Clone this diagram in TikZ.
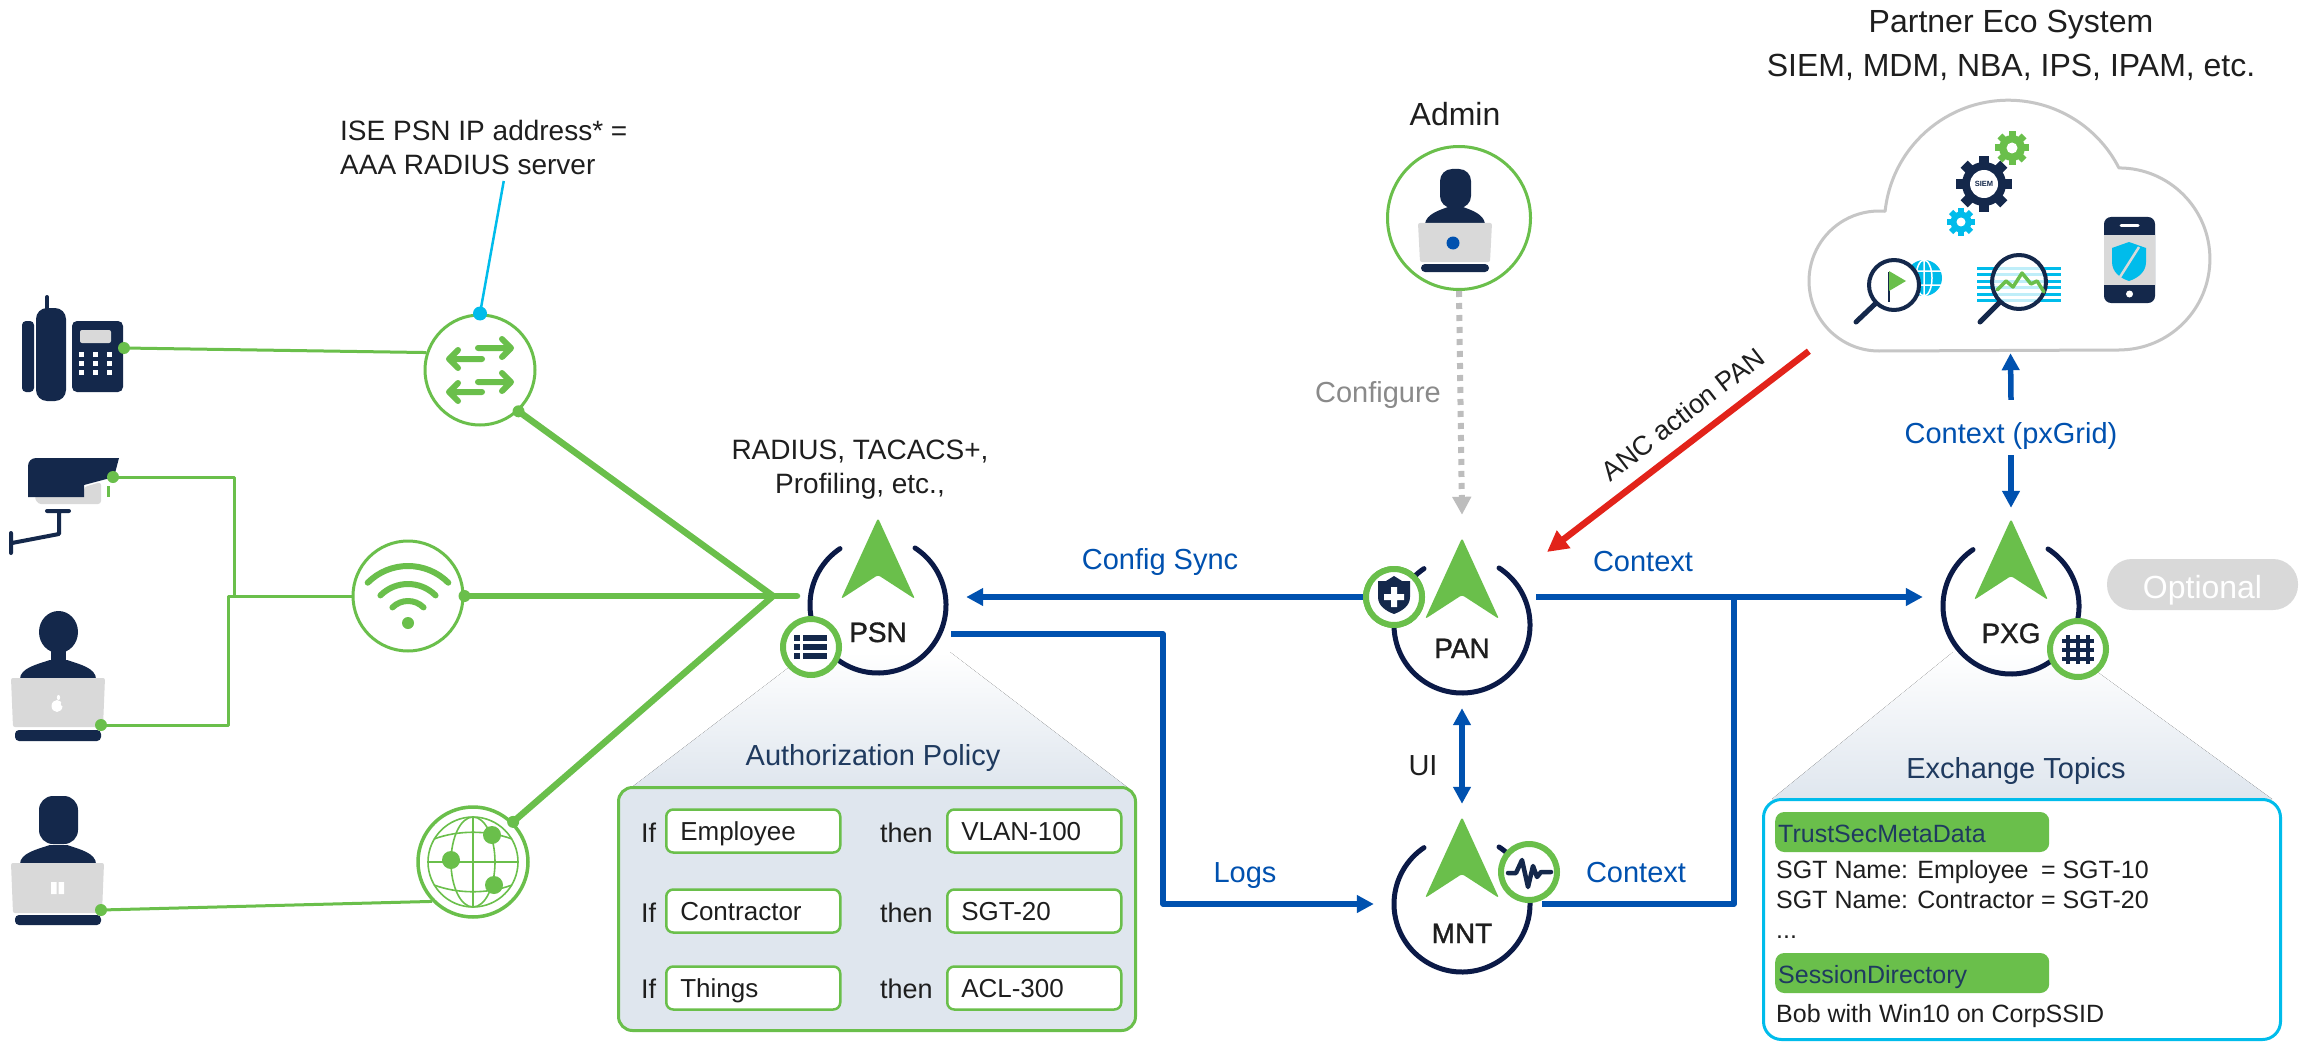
\documentclass[tikz,border=0pt]{standalone}
\usepackage{fontspec}
\setmainfont{Liberation Sans}
\newfontfamily\medfont[FakeBold=1.2]{Liberation Sans}
\usetikzlibrary{arrows.meta,calc}

\definecolor{cgreen}{HTML}{6ABF4B}
\definecolor{cnavy}{HTML}{14284B}
\definecolor{ringnavy}{HTML}{0B1A47}
\definecolor{cblue}{HTML}{0051AF}
\definecolor{ccyan}{HTML}{00BCEB}
\definecolor{cred}{HTML}{E2231A}
\definecolor{cgray}{HTML}{D9D9D9}
\definecolor{dotgray}{HTML}{BDBDBD}
\definecolor{softgray}{HTML}{8A8A8A}
\definecolor{ink}{HTML}{1E1E1E}
\definecolor{panelfill}{HTML}{DFE6EE}
\definecolor{titlenavy}{HTML}{1F3A5F}
\definecolor{cloudline}{HTML}{C6C6C6}

\newcommand\fsz[1]{\fontsize{#1pt}{#1pt}\selectfont}

\tikzset{
  gthin/.style={draw=cgreen, line width=3pt},
  gthick/.style={draw=cgreen, line width=6.5pt, line cap=round},
  flow/.style={draw=cblue, line width=5.5pt},
  bhead/.style={-{Triangle[length=17pt,width=17pt]}},
  bboth/.style={{Triangle[length=17pt,width=17pt]}-{Triangle[length=17pt,width=17pt]}},
  ring/.style={circle, draw=cgreen, line width=3pt, fill=white, inner sep=0pt, minimum size=110pt},
  persona/.style={circle, inner sep=0pt, minimum size=176pt},
  badge/.style={circle, draw=cgreen, line width=6pt, fill=white, inner sep=0pt, minimum size=56pt},
  txt/.style={inner sep=0pt, anchor=base, text=ink, font=\fsz{29}},
  flowlbl/.style={txt, text=cblue},
  condbox/.style={draw=cgreen, line width=2.5pt, fill=white, rounded corners=7pt,
    minimum height=43pt, text width=146pt, inner xsep=14pt, align=left,
    text height=19pt, text depth=0pt, font=\fsz{26}, text=ink, anchor=west},
  hdr/.style={fill=cgreen, rounded corners=9pt, minimum height=40pt, text width=268pt,
    inner xsep=3pt, align=left, text height=20pt, text depth=0pt, font=\fsz{25},
    text=titlenavy, anchor=west},
  plain/.style={txt, anchor=base west, font=\fsz{25}},
}

% ISE persona: open ring, green pointer and name
\newcommand\drawisenode[3]{%
  \draw[ringnavy, line width=5pt, line cap=round]
    ($(#1)+(303:68)$) arc[start angle=303, end angle=596, radius=68];
  \fill[cgreen, rounded corners=2.5pt]
    ($(#1)+(0,-87)$) -- ($(#1)+(37,-6)$) -- ($(#1)+(0,-30)$) -- ($(#1)+(-37,-6)$) -- cycle;
  \node[txt, font=\medfont\fsz{28}] (#1-name) at ($(#1)+(0,#3)$) {#2};
}

% cog wheel: centre x, centre y, tooth radius, body radius, tooth width, colour
\newcommand\drawcog[6]{%
  \fill[#6] (#1,#2) circle[radius=#4];
  \foreach \a in {0,45,...,315}
    \fill[#6, rotate around={\a:(#1,#2)}] (#1-#5/2,#2-#3) rectangle (#1+#5/2,#2);
}

\begin{document}
\begin{tikzpicture}[x=1pt, y=-1pt, line join=round]
\fill[white] (0,0) rectangle (2310,1043);
\useasboundingbox (0,0) rectangle (2310,1043);

% ---------------- policy panels (behind everything)
\fill[top color=white, bottom color=panelfill] (809,652) -- (950,652) -- (1127,787) -- (632,787) -- cycle;
\node[draw=cgreen, line width=3pt, fill=panelfill, rounded corners=14pt, minimum width=517pt,
      minimum height=243pt, inner sep=0pt] (authz) at (877,909) {};
\node[txt, text=titlenavy] (authz-title) at (873,765) {Authorization Policy};

\node[txt, anchor=base west, font=\fsz{27}] (if1) at (641,842) {If};
\node[txt, anchor=base west, font=\fsz{27}] (if2) at (641,922) {If};
\node[txt, anchor=base west, font=\fsz{27}] (if3) at (641,998) {If};
\node[txt, anchor=base west, font=\fsz{27}] (then1) at (880,842) {then};
\node[txt, anchor=base west, font=\fsz{27}] (then2) at (880,922) {then};
\node[txt, anchor=base west, font=\fsz{27}] (then3) at (880,998) {then};
\node[condbox] (cond-employee) at (665,831) {Employee};
\node[condbox] (cond-contractor) at (665,911) {Contractor};
\node[condbox] (cond-things) at (665,988) {Things};
\node[condbox] (res-vlan) at (946,831) {VLAN-100};
\node[condbox] (res-sgt) at (946,911) {SGT-20};
\node[condbox] (res-acl) at (946,988) {ACL-300};

\fill[top color=white, bottom color=panelfill] (1953,652) -- (2070,652) -- (2272,799) -- (1772,799) -- cycle;
\node[draw=ccyan, line width=3pt, fill=white, rounded corners=18pt, minimum width=517pt,
      minimum height=240pt, inner sep=0pt] (topics) at (2022,919.5) {};
\node[txt, text=titlenavy] (topics-title) at (2016,778) {Exchange Topics};
\node[hdr] (hdr-trustsec) at (1775,832) {TrustSecMetaData};
\node[plain] (sgt-employee) at (1776,878) {SGT Name: Employee\hspace{5.5pt} = SGT-10};
\node[plain] (sgt-contractor) at (1776,908) {SGT Name: Contractor = SGT-20};
\node[plain] (sgt-more) at (1776,938) {...};
\node[hdr] (hdr-session) at (1775,973) {SessionDirectory};
\node[plain] (session-bob) at (1776,1022) {Bob with Win10 on CorpSSID};

% ---------------- access devices
\node[ring] (switch) at (480,370) {};
\node[ring] (wifi) at (408,596) {};
\node[ring, line width=3.5pt] (globe) at (473,862) {};
\coordinate (hub) at (773,596);

% switch arrows
\begin{scope}[cgreen, line width=6pt, line cap=round]
  \draw (478,348) -- (510,348) (502,339) -- (511,348) -- (502,357);
  \draw (482,359) -- (450,359) (458,350) -- (449,359) -- (458,368);
  \draw (478,382) -- (510,382) (502,373) -- (511,382) -- (502,391);
  \draw (482,392) -- (450,392) (458,383) -- (449,392) -- (458,401);
\end{scope}

% wifi waves
\coordinate (wifi-dot) at (408,623);
\begin{scope}[cgreen, line width=6pt, line cap=round]
  \draw ($(wifi-dot)+(225:57)$) arc[start angle=225, end angle=315, radius=57];
  \draw ($(wifi-dot)+(225:39)$) arc[start angle=225, end angle=315, radius=39];
  \draw ($(wifi-dot)+(225:22)$) arc[start angle=225, end angle=315, radius=22];
  \fill (wifi-dot) circle[radius=6];
\end{scope}

% globe
\begin{scope}[draw=cgreen, double=white, double distance=1.6pt, line width=1.6pt]
  \draw (473,862) circle[radius=45];
  \draw (473,862) ellipse[x radius=22, y radius=45];
  \draw (473,817) -- (473,907);
  \draw (428,862) -- (518,862);
  \draw (434,839) .. controls (458,830) and (488,830) .. (512,839);
  \draw (434,885) .. controls (458,894) and (488,894) .. (512,885);
\end{scope}
\fill[cgreen] (492,835) circle[radius=9] (451,860) circle[radius=9] (494,885) circle[radius=9];

% desk phone
\node[inner sep=0pt, minimum width=101pt, minimum height=106pt] (phone) at (72.5,348) {};
\draw[cnavy, line width=4pt, line cap=round] (47,297) -- (47,312);
\fill[cnavy, rounded corners=4pt] (22,321) rectangle (34,392);
\fill[cnavy, rounded corners=11pt] (36,308) rectangle (66,401);
\fill[cnavy, rounded corners=5pt] (72,321) rectangle (123,392);
\fill[cgray, rounded corners=2pt] (80,330) rectangle (111,343);
\foreach \bx in {81,95,109} \foreach \by in {354,363,372}
  \fill[white] (\bx-2.5,\by-2.5) rectangle (\bx+2.5,\by+2.5);
\coordinate (phone-port) at (124,348);

% camera
\node[inner sep=0pt, minimum width=108pt, minimum height=95pt] (camera) at (65,505) {};
\fill[cgray, rounded corners=3pt] (34,496) -- (84,496) -- (84,487) -- (101,482) -- (101,504) -- (38,504) -- cycle;
\fill[cnavy] (28,497) [rounded corners=8pt] -- (28,458) [sharp corners] -- (119,458) -- (114,477) -- (84,485) -- (84,497) -- cycle;
\draw[cgreen, line width=3pt] (108,486) -- (108,497);
\draw[cnavy, line width=4pt, line cap=round] (47,511) -- (69,511) (59,511) -- (59,534) -- (12,543) (11,533) -- (11,553);
\coordinate (cam-port) at (113,477);

% laptop user (Mac)
\node[inner sep=0pt, minimum width=94pt, minimum height=130pt] (mac-user) at (58,676) {};
\fill[cnavy] (58.5,632) ellipse[x radius=19.5, y radius=21];
\fill[cnavy] (51,648) rectangle (66,664);
\fill[cnavy] (20,679) .. controls (20,668) and (38,664) .. (50,660) -- (67,660) .. controls (79,664) and (96,668) .. (96,679) -- cycle;
\fill[cgray, rounded corners=2pt] (11,678) -- (105,678) -- (103,727) -- (13,727) -- cycle;
\fill[white] (57,706) ellipse[x radius=5.5, y radius=6];
\fill[white] (58.5,697.5) ellipse[x radius=1.6, y radius=2.6];
\fill[cgray] (63,704) circle[radius=2.2];
\fill[cnavy, rounded corners=4pt] (15,730) rectangle (101,741);
\coordinate (lap1-port) at (101,725);

% laptop user (Windows)
\node[inner sep=0pt, minimum width=94pt, minimum height=130pt] (win-user) at (58,860) {};
\fill[cnavy, rounded corners=14pt] (39,796) rectangle (78,844);
\fill[cnavy] (20,864) .. controls (20,853) and (38,849) .. (50,845) -- (67,845) .. controls (79,849) and (96,853) .. (96,864) -- cycle;
\fill[cgray, rounded corners=2pt] (11,863) -- (104,863) -- (102,913) -- (13,913) -- cycle;
\fill[white] (51,882) rectangle (56.5,894) (58.5,882) rectangle (64,894);
\fill[cnavy, rounded corners=4pt] (15,915) rectangle (101,925);
\coordinate (lap2-port) at (101,910);

% ---------------- access links
\draw[gthin] (phone-port) -- (switch.162);
\draw[gthin] (cam-port) -| ($(wifi.west)+(-117,0)$);
\draw[gthin] (lap1-port) -| ($(wifi.west)+(-123,0)$) -- (wifi.west);
\draw[gthin] (lap2-port) -- (globe.224);
\draw[gthick] (switch.313) -- (hub);
\draw[gthick] (wifi.east) -- (hub);
\draw[gthick] (globe.45) -- (hub);
\foreach \p in {phone-port, cam-port, lap1-port, lap2-port, switch.313, wifi.east, globe.45}
  \fill[cgreen] (\p) circle[radius=6];

\node[txt, anchor=north west, align=left, font=\fontsize{28pt}{34pt}\selectfont] (ise-note) at (340,120)
  {ISE PSN IP address* =\\AAA RADIUS server};
\draw[ccyan, line width=2.5pt] ($(ise-note.south)+(20,6)$) -- (switch.north);
\fill[ccyan] (switch.north) circle[radius=7];

% ---------------- ISE personas
\node[persona] (psn) at (878,605) {};
\node[persona] (pan) at (1462,625) {};
\node[persona] (mnt) at (1462,904) {};
\node[persona] (pxg) at (2011,606) {};

\draw[gthick] (hub) -- ($(psn)+(-81,-9)$);

\node[txt, anchor=north, align=center, font=\fontsize{28pt}{34pt}\selectfont] (psn-services) at (860,440)
  {RADIUS, TACACS+,\\Profiling, etc.,};

% admin
\node[ring, minimum size=143pt] (admin) at (1459,218) {};
\node[txt, font=\fsz{32}] (admin-title) at (1455,126) {Admin};
\fill[cnavy, rounded corners=12pt] (1440,169) rectangle (1471,208);
\fill[cnavy] (1425,224) .. controls (1426,214) and (1440,210) .. (1448,207) -- (1463,207) .. controls (1471,210) and (1484,214) .. (1485,224) -- cycle;
\fill[cgray, rounded corners=2pt] (1418,223) -- (1492,223) -- (1490,262) -- (1420,262) -- cycle;
\fill[cblue] (1453,243) circle[radius=6.5];
\fill[cnavy, rounded corners=4pt] (1421,264) rectangle (1489,272);

% partner cloud
\node[inner sep=0pt, minimum width=403pt, minimum height=251pt] (cloud) at (2010.5,225.5) {};
\draw[cloudline, line width=3pt] (2119,350) -- (1879,351)
  arc[start angle=90, end angle=275, radius=70]
  arc[start angle=186, end angle=333, radius=124]
  arc[start angle=270, end angle=450, radius=91] -- cycle;
\node[txt, anchor=north, align=center, font=\fontsize{32pt}{44pt}\selectfont] (partner-title) at (2011,10)
  {Partner Eco System\\SIEM, MDM, NBA, IPS, IPAM, etc.};

\drawcog{1984}{184}{28}{22}{10}{cnavy}
\fill[white] (1984,184) circle[radius=14];
\node[inner sep=0pt, font=\bfseries\fsz{7.5}, text=cnavy] (siem-tag) at (1984,184) {SIEM};
\drawcog{2012}{148}{17}{13}{7}{cgreen}
\fill[white] (2012,148) circle[radius=5.5];
\drawcog{1961}{222}{14}{10.5}{6}{ccyan}
\fill[white] (1961,222) circle[radius=4.5];

% threat magnifier
\fill[ccyan] (1924,278) circle[radius=18];
\draw[white, line width=1.5pt] (1924,278) ellipse[x radius=8, y radius=18] (1906,271) -- (1942,271) (1906,285) -- (1942,285) (1924,260) -- (1924,296);
\draw[cnavy, line width=4pt, fill=white] (1894,285) circle[radius=25];
\draw[cnavy, line width=5pt, line cap=round] (1875,304) -- (1856,322);
\draw[cnavy, line width=2.5pt] (1889,272) -- (1889,302);
\fill[cgreen] (1889,271) -- (1906,281) -- (1889,291) -- cycle;

% analytics magnifier
\foreach \yy in {268,274.5,281,287.5,294,300.5}
  \draw[ccyan, line width=3pt] (1977,\yy) -- (2061,\yy);
\fill[white, fill opacity=0.75] (2019,282) circle[radius=25];
\draw[cnavy, line width=4pt] (2019,282) circle[radius=27];
\draw[cnavy, line width=5pt, line cap=round] (2000,302) -- (1980,322);
\draw[cgreen, line width=3.5pt, line cap=round] (1997,290) -- (2006,281) -- (2013,287) -- (2022,273) -- (2031,284) -- (2037,281) -- (2044,292);

% mobile device
\fill[cnavy, rounded corners=7pt] (2104,217) rectangle (2155,303);
\fill[cgray] (2104,235) rectangle (2155,285);
\draw[white, line width=3pt, line cap=round] (2121,226) -- (2138,226);
\fill[white] (2129.5,294) circle[radius=3.5];
\fill[ccyan] (2112,248) -- (2129,242) -- (2146,248) -- (2146,262) .. controls (2146,272) and (2138,278) .. (2129,281) .. controls (2120,278) and (2112,272) .. (2112,262) -- cycle;
\draw[cgray, line width=2.5pt] (2120,277) -- (2139,247);

% ---------------- flows between personas
\node[flowlbl] (lbl-sync) at (1160,569) {Config Sync};
\node[flowlbl] (lbl-logs) at (1245,882) {Logs};
\node[flowlbl] (lbl-ctx-pan) at (1643,571) {Context};
\node[flowlbl] (lbl-ctx-mnt) at (1636,882) {Context};
\node[flowlbl] (lbl-pxgrid) at (2011,443) {Context (pxGrid)};
\node[txt, text=softgray] (lbl-configure) at (1378,402) {Configure};
\node[txt] (lbl-ui) at (1423,775) {UI};
\node[txt, anchor=center, rotate=37.7, font=\fsz{27}] (lbl-anc) at (1683,414) {ANC action PAN};

\node[badge] (panbadge) at (1394,597) {};
\draw[flow, bhead] (panbadge.west) -- (panbadge.west -| psn.east);
\draw[flow, bhead] ($(psn)+(73,29)$) -- ++(212,0) |- (mnt.west);
\coordinate (ctx-out) at ($(pan)+(74,-28)$);
\draw[flow, bhead] (ctx-out) -- (ctx-out -| pxg.west);
\draw[flow] ($(mnt)+(80,0)$) -| ($(ctx-out)+(198,0)$);
\draw[flow, bboth] ($(pan.south)+(0,-5)$) -- ($(mnt.north)+(0,-12)$);
\draw[flow, bhead] ($(lbl-pxgrid.north)+(0,-22)$) -- ($(cloud.south)+(0,2)$);
\draw[flow, bhead] ($(lbl-pxgrid.south)+(0,6)$) -- ($(pxg.north)+(0,-10)$);
\draw[dotgray, line width=6pt, dash pattern=on 6pt off 6pt, -{Triangle[length=18pt,width=18pt]}]
  (admin.south) -- ($(pan.north)+(0,-22)$);
\draw[cred, line width=6.5pt, -{Triangle[length=21pt,width=21pt]}] (cloud.south west) -- ($(pan)+(85,-73)$);

% persona drawings
\drawisenode{psn}{PSN}{37}
\drawisenode{pan}{PAN}{33}
\drawisenode{mnt}{MNT}{39}
\drawisenode{pxg}{PXG}{37}

% badges
\node[badge] (psnbadge) at (811,647) {};
\foreach \yy in {638,647,656} {
  \fill[cnavy] (794,\yy-3) rectangle (800,\yy+3);
  \fill[cnavy] (803,\yy-2.8) rectangle (827,\yy+2.8);
}
\node[badge] at (panbadge) {};
\fill[cnavy] (1378,581) -- (1386,581) -- (1394,576) -- (1402,581) -- (1410,581) -- (1410,597)
  .. controls (1410,606) and (1402,611) .. (1394,614) .. controls (1386,611) and (1378,606) .. (1378,597) -- cycle;
\fill[white] (1391,587) rectangle (1397,607) (1384,594) rectangle (1404,600);
\node[badge] (mntbadge) at (1529,872) {};
\draw[cnavy, line width=4.5pt, line cap=round] (1508,873) -- (1516,873) -- (1522,860) -- (1528,887) -- (1533,866) -- (1537,877) -- (1541,872) -- (1551,872);
\node[badge] (pxgbadge) at (2078,649) {};
\draw[cnavy, line width=4pt] (2068,635) -- (2068,664) (2078,635) -- (2078,664) (2088,635) -- (2088,664)
  (2062,641) -- (2094,641) (2062,650) -- (2094,650) (2062,659) -- (2094,659);

% optional marker
\node[fill=cgray, rounded corners=25pt, minimum width=191pt, minimum height=51pt, inner sep=0pt,
      text=white, font=\fsz{32}, text height=27pt, text depth=0pt] (optional) at (2202.5,584.5) {Optional};
\end{tikzpicture}
\end{document}
